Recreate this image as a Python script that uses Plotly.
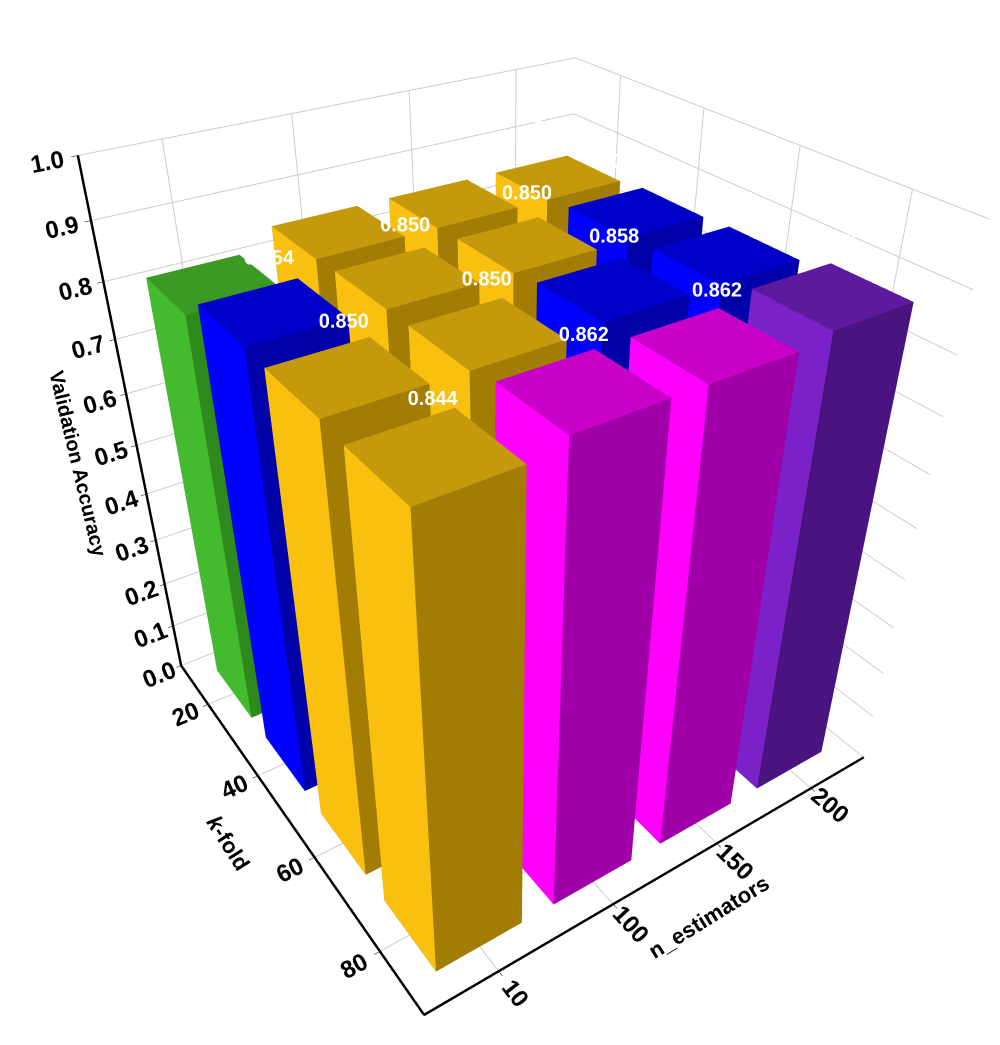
import plotly.graph_objects as go

# Data: rows along n_estimators, columns along k-fold
k_labels = ["20", "40", "60", "80"]
n_labels = ["10", "100", "150", "200"]
acc = [
    [0.813, 0.854, 0.850, 0.844],   # n=10
    [0.847, 0.850, 0.850, 0.862],   # n=100
    [0.847, 0.850, 0.858, 0.862],   # n=150
    [0.847, 0.854, 0.858, 0.875],   # n=200
]

# (front, side, top) shades per value band
def shades(v):
    if v < 0.84:
        return "#44bb2e", "#2e8a1c", "#3a9a24"
    if v < 0.851:
        return "#f9c010", "#a37c04", "#c49a0c"
    if v < 0.86:
        return "#0000ff", "#0000a8", "#0000c8"
    if v < 0.87:
        return "#ff00ff", "#a000a8", "#c800c8"
    return "#7a22c8", "#4a1480", "#5e1a9e"

w = 0.36
fig = go.Figure()
for j, row in enumerate(acc):
    for i, v in enumerate(row):
        x0, x1, y0, y1 = i - w, i + w, j - w, j + w
        xs = [x0, x1, x1, x0, x0, x1, x1, x0]
        ys = [y0, y0, y1, y1, y0, y0, y1, y1]
        zs = [0, 0, 0, 0, v, v, v, v]
        front, side, top = shades(v)
        # faces: bottom, top, y0 side, y1 side, x0 side, x1 side
        I = [0, 0, 4, 4, 0, 0, 3, 3, 0, 0, 1, 1]
        J = [1, 2, 5, 6, 1, 5, 2, 6, 3, 7, 2, 6]
        K = [2, 3, 6, 7, 5, 4, 6, 7, 7, 4, 6, 5]
        fc = [side, side, top, top, front, front, side, side, side, side, side, side]
        fig.add_trace(go.Mesh3d(x=xs, y=ys, z=zs, i=I, j=J, k=K, facecolor=fc,
                                flatshading=True, lighting=dict(ambient=1, diffuse=0, specular=0),
                                hoverinfo="skip", showscale=False))

tx, ty, tz, tt = [], [], [], []
for j, row in enumerate(acc):
    for i, v in enumerate(row):
        tx.append(i); ty.append(j); tz.append(v + 0.04); tt.append(f"<b>{v:.3f}</b>")
fig.add_trace(go.Scatter3d(x=tx, y=ty, z=tz, text=tt, mode="text",
                           textfont=dict(color="white", size=20, family="Liberation Sans"),
                           hoverinfo="skip"))

axfont = dict(family="Liberation Sans", size=17, color="black")
common = dict(showbackground=False, gridcolor="#cccccc", linecolor="black", linewidth=5,
              showline=True, tickfont=axfont, zeroline=False, ticks="outside",
              tickcolor="black")
fig.update_layout(
    width=1000, height=1045, showlegend=False, paper_bgcolor="white",
    margin=dict(l=0, r=0, t=0, b=0),
    scene=dict(
        xaxis=dict(common, tickvals=[0, 1, 2, 3], ticktext=[f"<b>{t}</b>" for t in k_labels],
                   range=[-0.6, 3.6],
                   title=dict(text="<b><i>k</i>-fold</b>",
                              font=dict(family="Liberation Sans", size=22, color="black"))),
        yaxis=dict(common, tickvals=[0, 1, 2, 3], ticktext=[f"<b>{t}</b>" for t in n_labels],
                   range=[-0.6, 3.6],
                   title=dict(text="<b>n_estimators</b>",
                              font=dict(family="Liberation Sans", size=22, color="black"))),
        zaxis=dict(common, tickvals=[i / 10 for i in range(11)],
                   ticktext=[f"<b>{i / 10:.1f}</b>" for i in range(11)], range=[0, 1],
                   title=dict(text="<b>Validation Accuracy</b>",
                              font=dict(family="Liberation Sans", size=20, color="black"))),
        aspectmode="manual", aspectratio=dict(x=1, y=1, z=1.1),
        camera=dict(eye=dict(x=1.55, y=-1.05, z=1.25), center=dict(x=0, y=0, z=-0.1)),
    ),
)

fig.write_html("out.html")
